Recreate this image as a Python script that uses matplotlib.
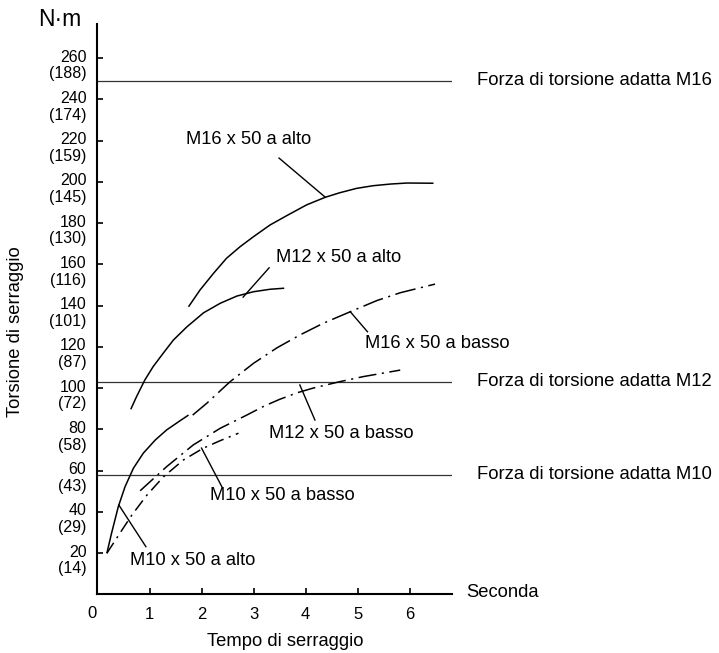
import matplotlib
matplotlib.use("Agg")
import matplotlib.pyplot as plt
from matplotlib.transforms import ScaledTranslation

plt.rcParams["font.family"] = ["Liberation Sans", "DejaVu Sans"]
plt.rcParams["lines.scale_dashes"] = False

# torque ticks (N·m) and the bracketed values under them
y_ticks = [20, 40, 60, 80, 100, 120, 140, 160, 180, 200, 220, 240, 260]
y_alt = [14, 29, 43, 58, 72, 87, 101, 116, 130, 145, 159, 174, 188]
x_ticks = [1, 2, 3, 4, 5, 6]

# suitable torque reference lines
ref_names = ["Forza di torsione adatta M16", "Forza di torsione adatta M12",
             "Forza di torsione adatta M10"]
ref_values = [249, 103, 58]

# curves: time (s) vs torque (N·m)
m16_alto_t = [1.75, 1.97, 2.23, 2.48, 2.74, 3.00, 3.32, 3.64, 4.02, 4.38, 4.66, 4.98,
              5.30, 5.63, 5.95, 6.46]
m16_alto_y = [139.4, 147.5, 155.6, 162.9, 168.5, 173.4, 179.1, 183.6, 188.8, 192.5, 194.7,
              196.8, 198.1, 198.9, 199.4, 199.3]

m12_alto_t = [0.64, 0.75, 0.91, 1.07, 1.27, 1.46, 1.72, 2.04, 2.36, 2.68, 3.00, 3.32, 3.59]
m12_alto_y = [89.7, 95.8, 103.9, 110.4, 117.1, 123.3, 129.7, 136.5, 141.1, 144.6, 146.7,
              147.9, 148.4]

m10_alto_t = [0.18, 0.27, 0.40, 0.53, 0.69, 0.88, 1.11, 1.33, 1.59, 1.75]
m10_alto_y = [19.9, 29.6, 42.5, 52.2, 61.1, 68.4, 74.8, 79.7, 84.2, 86.9]

m16_basso_t = [1.83, 2.10, 2.55, 3.00, 3.45, 3.89, 4.34, 4.86, 5.37, 5.82, 6.49]
m16_basso_y = [86.9, 92.6, 103.1, 112.0, 119.5, 125.7, 131.4, 137.0, 142.4, 146.2, 150.4]

m12_basso_t = [0.82, 1.33, 1.84, 2.36, 2.87, 3.20, 3.50, 3.85, 4.15, 4.66, 5.10, 5.82]
m12_basso_y = [50.2, 61.9, 72.4, 80.5, 86.9, 91.2, 94.5, 97.8, 100.0, 103.1, 105.5, 108.7]

m10_basso_t = [0.18, 0.43, 0.66, 0.95, 1.27, 1.65, 2.03, 2.36, 2.71]
m10_basso_y = [19.9, 29.6, 38.4, 48.1, 57.0, 65.1, 70.8, 74.5, 78.1]

# curve labels: text, left x, centre y, leader start, leader end
labels = ["M16 x 50 a alto", "M12 x 50 a alto", "M16 x 50 a basso",
          "M12 x 50 a basso", "M10 x 50 a basso", "M10 x 50 a alto"]
label_x = [1.70, 3.43, 5.15, 3.30, 2.16, 0.625]
label_y = [220.6, 163.5, 121.7, 78.1, 47.7, 16.3]
leader_t = [(3.49, 4.38), (3.30, 2.80), (4.86, 5.19), (3.89, 4.18), (2.00, 2.39), (0.41, 0.93)]
leader_y = [(211.5, 192.5), (158.3, 144.1), (137.0, 127.3), (101.5, 84.5), (70.9, 52.2),
            (43.3, 23.1)]

W, H = 719, 653
fig = plt.figure(figsize=(W / 100, H / 100), dpi=100)
ax = fig.add_axes([97.5 / W, 1 - 594.3 / H, (451.7 - 97.5) / W, (594.3 - 24) / H])
ax.set_xlim(0, 6.81)
ax.set_ylim(0, 276.5)

for s in ["top", "right"]:
    ax.spines[s].set_visible(False)
for s in ["left", "bottom"]:
    ax.spines[s].set_linewidth(1.5)

# reference lines
for name, v in zip(ref_names, ref_values):
    ax.axhline(v, color="#333333", lw=0.9)
    ax.text(7.30, v, name, fontsize=13.3, va="center", ha="left", clip_on=False)

solid = dict(color="black", lw=1.1, solid_capstyle="butt", solid_joinstyle="round")
ax.plot(m16_alto_t, m16_alto_y, **solid)
ax.plot(m12_alto_t, m12_alto_y, **solid)
ax.plot(m10_alto_t, m10_alto_y, **solid)
ax.plot(m16_basso_t, m16_basso_y, color="black", lw=1.1, linestyle=(0, (15, 4, 1.5, 4)))
ax.plot(m12_basso_t, m12_basso_y, color="black", lw=1.1, linestyle=(0, (13, 4, 1.5, 4)))
ax.plot(m10_basso_t, m10_basso_y, color="black", lw=1.1, linestyle=(0, (9, 4, 1.5, 4)))

for text, lx, ly, lt, lv in zip(labels, label_x, label_y, leader_t, leader_y):
    ax.plot(lt, lv, color="black", lw=1.0)
    ax.text(lx, ly, text, fontsize=13.2, ha="left", va="center")

# axes ticks
ax.set_yticks(y_ticks)
ax.set_yticklabels([f"{a}\n({b})" for a, b in zip(y_ticks, y_alt)])
ax.tick_params(axis="y", direction="in", length=4, width=1.2, pad=8, labelsize=11.5)
shift = ScaledTranslation(0, -0.05, fig.dpi_scale_trans)
for lab in ax.get_yticklabels():
    lab.set_transform(lab.get_transform() + shift)
    lab.set_linespacing(1.15)

ax.set_xticks(x_ticks)
ax.set_xticklabels([str(t) for t in x_ticks])
ax.tick_params(axis="x", direction="in", length=4, width=1.2, pad=9, labelsize=12)

fig.text(91.7 / W, 1 - 613 / H, "0", fontsize=12, ha="center", va="center")
ax.text(7.09, 1.0, "Seconda", fontsize=13.2, ha="left", va="center", clip_on=False)
fig.text(285 / W, 1 - 641.7 / H, "Tempo di serraggio", fontsize=13.2, ha="center", va="center")
fig.text(16 / W, 1 - 332 / H, "Torsione di serraggio", fontsize=13.2, rotation=90,
         ha="center", va="center")
fig.text(60 / W, 1 - 19 / H, "N·m", fontsize=16.5, ha="center", va="center")

fig.savefig("out.png", dpi=100)
